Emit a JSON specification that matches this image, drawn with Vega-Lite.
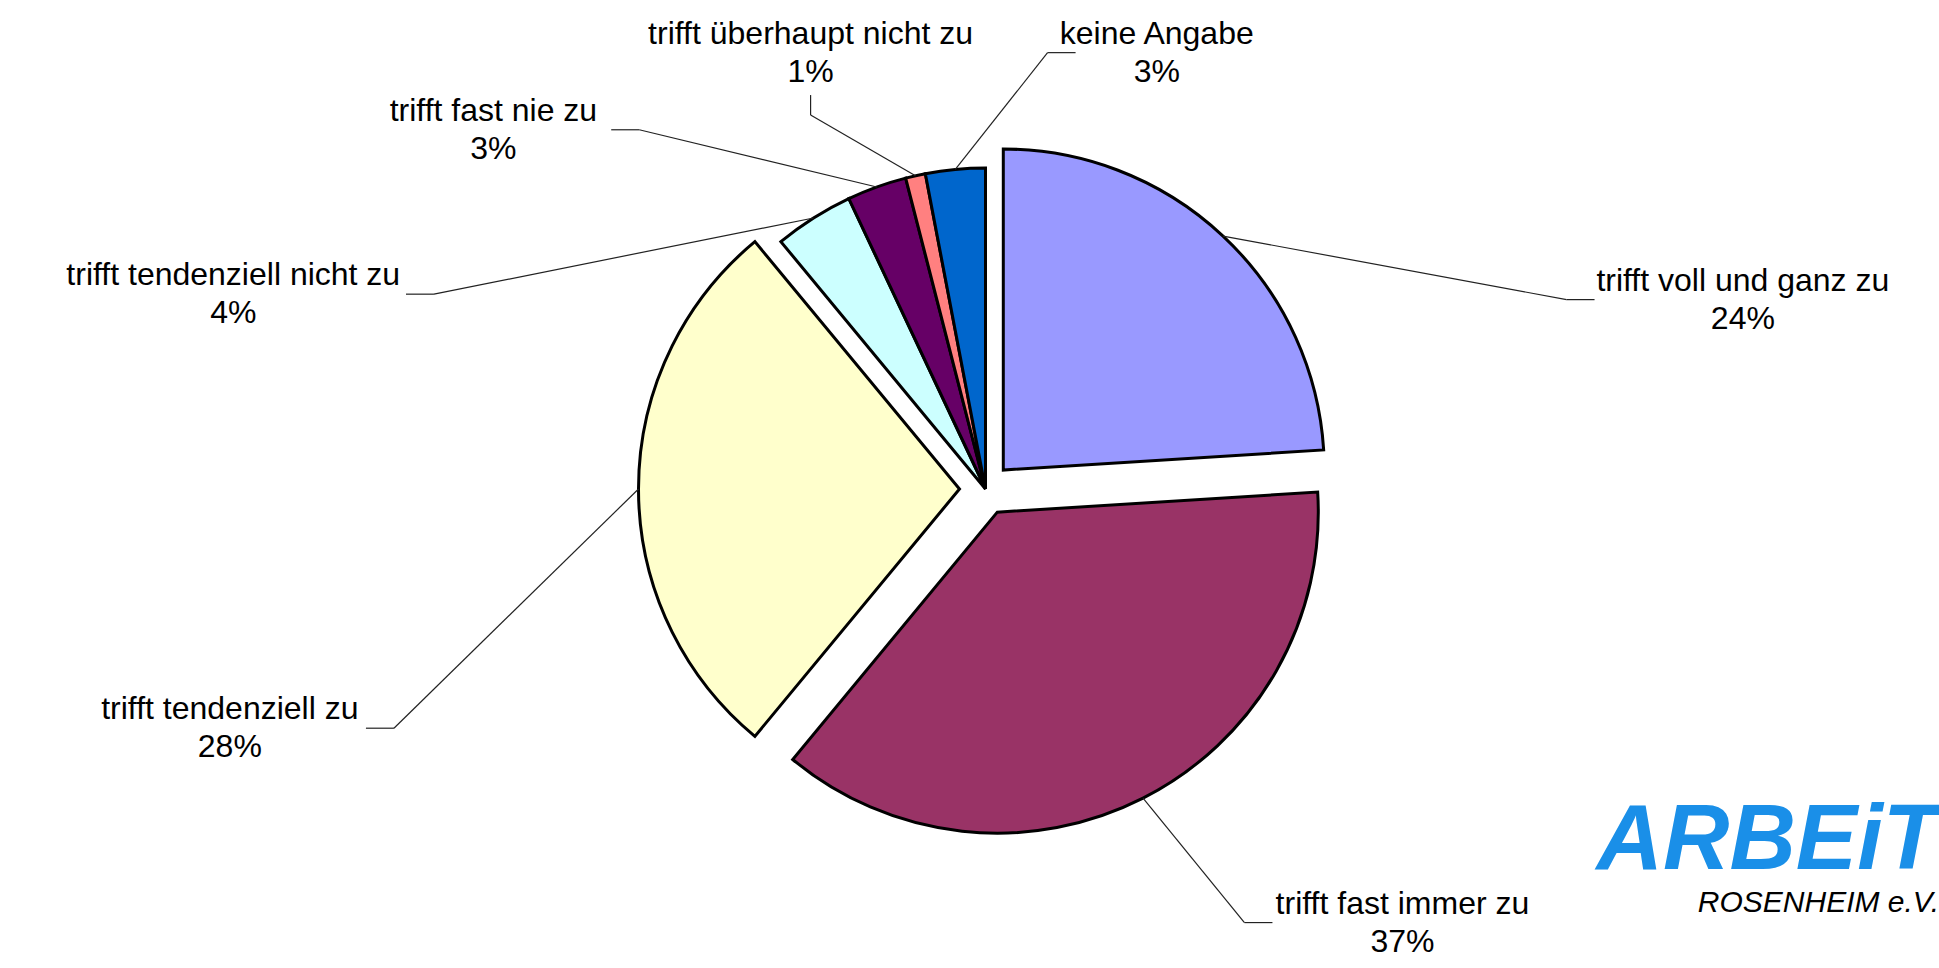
{
  "$schema": "https://vega.github.io/schema/vega-lite/v6.json",
  "width": 1907,
  "height": 958,
  "autosize": "none",
  "padding": {"left": 32, "top": 10, "right": 0, "bottom": 0},
  "background": "#ffffff",
  "config": {"view": {"stroke": null}, "font": "Liberation Sans"},
  "params": [{"name": "rad", "value": 321}],
  "title": {
    "text": "ARBEiT",
    "subtitle": "ROSENHEIM e.V.",
    "orient": "bottom",
    "anchor": "end",
    "frame": "group",
    "offset": -172,
    "font": "Liberation Sans",
    "fontSize": 92,
    "fontStyle": "italic",
    "fontWeight": "bold",
    "color": "#1a8fe8",
    "subtitleFont": "Liberation Sans",
    "subtitleFontSize": 30,
    "subtitleFontStyle": "italic",
    "subtitleColor": "#000000",
    "subtitlePadding": 0
  },
  "data": {
    "values": [
      {"nr": 1, "kategorie": "trifft voll und ganz zu", "anteil": 24},
      {"nr": 2, "kategorie": "trifft fast immer zu", "anteil": 37},
      {"nr": 3, "kategorie": "trifft tendenziell zu", "anteil": 28},
      {"nr": 4, "kategorie": "trifft tendenziell nicht zu", "anteil": 4},
      {"nr": 5, "kategorie": "trifft fast nie zu", "anteil": 3},
      {"nr": 6, "kategorie": "trifft überhaupt nicht zu", "anteil": 1},
      {"nr": 7, "kategorie": "keine Angabe", "anteil": 3}
    ]
  },
  "transform": [
    {"window": [{"op": "sum", "field": "anteil", "as": "cum"}], "sort": [{"field": "nr", "order": "ascending"}], "frame": [null, 0]},
    {"joinaggregate": [{"op": "sum", "field": "anteil", "as": "gesamt"}]}
  ],
  "layer": [
    {
      "mark": {
        "type": "arc",
        "radius": {"expr": "rad"},
        "stroke": "#000000",
        "strokeWidth": 3,
        "strokeJoin": "miter",
        "xOffset": {"expr": "(datum.anteil>10?26:0)*sin(2*PI*(datum.cum-datum.anteil/2)/datum.gesamt)"},
        "yOffset": {"expr": "-(datum.anteil>10?26:0)*cos(2*PI*(datum.cum-datum.anteil/2)/datum.gesamt)"}
      },
      "encoding": {
        "theta": {"field": "anteil", "type": "quantitative", "stack": true},
        "order": {"field": "nr", "type": "quantitative"},
        "color": {
          "field": "kategorie",
          "type": "nominal",
          "legend": null,
          "scale": {
            "domain": ["trifft voll und ganz zu", "trifft fast immer zu", "trifft tendenziell zu", "trifft tendenziell nicht zu", "trifft fast nie zu", "trifft überhaupt nicht zu", "keine Angabe"],
            "range": ["#9999FF", "#993366", "#FFFFCC", "#CCFFFF", "#660066", "#FF8080", "#0066CC"]
          }
        }
      }
    },
    {
      "mark": {"type": "rule", "stroke": "#222222", "strokeWidth": 1.2},
      "encoding": {
        "x": {"value": {"expr": "abs((width/2+850*sin((36+225*(datum.cum-datum.anteil/2)/datum.gesamt+19*(datum.nr-1))*PI/180))-(width/2+(rad+(datum.anteil>10?26:0))*sin(2*PI*(datum.cum-datum.anteil/2)/datum.gesamt)))>(length(datum.kategorie)*6.1+8) ? (width/2+850*sin((36+225*(datum.cum-datum.anteil/2)/datum.gesamt+19*(datum.nr-1))*PI/180))-((width/2+850*sin((36+225*(datum.cum-datum.anteil/2)/datum.gesamt+19*(datum.nr-1))*PI/180))>(width/2+(rad+(datum.anteil>10?26:0))*sin(2*PI*(datum.cum-datum.anteil/2)/datum.gesamt))?1:-1)*(length(datum.kategorie)*6.1+8) : (width/2+850*sin((36+225*(datum.cum-datum.anteil/2)/datum.gesamt+19*(datum.nr-1))*PI/180))"}},
        "y": {"value": {"expr": "abs((width/2+850*sin((36+225*(datum.cum-datum.anteil/2)/datum.gesamt+19*(datum.nr-1))*PI/180))-(width/2+(rad+(datum.anteil>10?26:0))*sin(2*PI*(datum.cum-datum.anteil/2)/datum.gesamt)))>(length(datum.kategorie)*6.1+8) ? (height/2+24-470*cos((36+225*(datum.cum-datum.anteil/2)/datum.gesamt+19*(datum.nr-1))*PI/180)) : (height/2+24-470*cos((36+225*(datum.cum-datum.anteil/2)/datum.gesamt+19*(datum.nr-1))*PI/180))+((height/2+24-470*cos((36+225*(datum.cum-datum.anteil/2)/datum.gesamt+19*(datum.nr-1))*PI/180))<(height/2-(rad+(datum.anteil>10?26:0))*cos(2*PI*(datum.cum-datum.anteil/2)/datum.gesamt))?1:-1)*42"}},
        "x2": {"value": {"expr": "abs((width/2+850*sin((36+225*(datum.cum-datum.anteil/2)/datum.gesamt+19*(datum.nr-1))*PI/180))-(width/2+(rad+(datum.anteil>10?26:0))*sin(2*PI*(datum.cum-datum.anteil/2)/datum.gesamt)))>(length(datum.kategorie)*6.1+8) ? (width/2+850*sin((36+225*(datum.cum-datum.anteil/2)/datum.gesamt+19*(datum.nr-1))*PI/180))-((width/2+850*sin((36+225*(datum.cum-datum.anteil/2)/datum.gesamt+19*(datum.nr-1))*PI/180))>(width/2+(rad+(datum.anteil>10?26:0))*sin(2*PI*(datum.cum-datum.anteil/2)/datum.gesamt))?1:-1)*(length(datum.kategorie)*6.1+36) : (width/2+850*sin((36+225*(datum.cum-datum.anteil/2)/datum.gesamt+19*(datum.nr-1))*PI/180))"}},
        "y2": {"value": {"expr": "abs((width/2+850*sin((36+225*(datum.cum-datum.anteil/2)/datum.gesamt+19*(datum.nr-1))*PI/180))-(width/2+(rad+(datum.anteil>10?26:0))*sin(2*PI*(datum.cum-datum.anteil/2)/datum.gesamt)))>(length(datum.kategorie)*6.1+8) ? (height/2+24-470*cos((36+225*(datum.cum-datum.anteil/2)/datum.gesamt+19*(datum.nr-1))*PI/180)) : (height/2+24-470*cos((36+225*(datum.cum-datum.anteil/2)/datum.gesamt+19*(datum.nr-1))*PI/180))+((height/2+24-470*cos((36+225*(datum.cum-datum.anteil/2)/datum.gesamt+19*(datum.nr-1))*PI/180))<(height/2-(rad+(datum.anteil>10?26:0))*cos(2*PI*(datum.cum-datum.anteil/2)/datum.gesamt))?1:-1)*62"}}
      }
    },
    {
      "mark": {"type": "rule", "stroke": "#222222", "strokeWidth": 1.2},
      "encoding": {
        "x": {"value": {"expr": "abs((width/2+850*sin((36+225*(datum.cum-datum.anteil/2)/datum.gesamt+19*(datum.nr-1))*PI/180))-(width/2+(rad+(datum.anteil>10?26:0))*sin(2*PI*(datum.cum-datum.anteil/2)/datum.gesamt)))>(length(datum.kategorie)*6.1+8) ? (width/2+850*sin((36+225*(datum.cum-datum.anteil/2)/datum.gesamt+19*(datum.nr-1))*PI/180))-((width/2+850*sin((36+225*(datum.cum-datum.anteil/2)/datum.gesamt+19*(datum.nr-1))*PI/180))>(width/2+(rad+(datum.anteil>10?26:0))*sin(2*PI*(datum.cum-datum.anteil/2)/datum.gesamt))?1:-1)*(length(datum.kategorie)*6.1+36) : (width/2+850*sin((36+225*(datum.cum-datum.anteil/2)/datum.gesamt+19*(datum.nr-1))*PI/180))"}},
        "y": {"value": {"expr": "abs((width/2+850*sin((36+225*(datum.cum-datum.anteil/2)/datum.gesamt+19*(datum.nr-1))*PI/180))-(width/2+(rad+(datum.anteil>10?26:0))*sin(2*PI*(datum.cum-datum.anteil/2)/datum.gesamt)))>(length(datum.kategorie)*6.1+8) ? (height/2+24-470*cos((36+225*(datum.cum-datum.anteil/2)/datum.gesamt+19*(datum.nr-1))*PI/180)) : (height/2+24-470*cos((36+225*(datum.cum-datum.anteil/2)/datum.gesamt+19*(datum.nr-1))*PI/180))+((height/2+24-470*cos((36+225*(datum.cum-datum.anteil/2)/datum.gesamt+19*(datum.nr-1))*PI/180))<(height/2-(rad+(datum.anteil>10?26:0))*cos(2*PI*(datum.cum-datum.anteil/2)/datum.gesamt))?1:-1)*62"}},
        "x2": {"value": {"expr": "width/2+(rad+(datum.anteil>10?26:0))*sin(2*PI*(datum.cum-datum.anteil/2)/datum.gesamt)"}},
        "y2": {"value": {"expr": "height/2-(rad+(datum.anteil>10?26:0))*cos(2*PI*(datum.cum-datum.anteil/2)/datum.gesamt)"}}
      }
    },
    {
      "mark": {
        "type": "text",
        "font": "Liberation Sans",
        "fontSize": 32,
        "lineHeight": 38,
        "align": "center",
        "baseline": "middle",
        "dy": -19,
        "color": "#000000",
        "x": {"expr": "width/2+850*sin((36+225*(datum.cum-datum.anteil/2)/datum.gesamt+19*(datum.nr-1))*PI/180)"},
        "y": {"expr": "height/2+24-470*cos((36+225*(datum.cum-datum.anteil/2)/datum.gesamt+19*(datum.nr-1))*PI/180)"},
        "text": {"expr": "[datum.kategorie, datum.anteil + '%']"}
      },
      "encoding": {}
    }
  ]
}
